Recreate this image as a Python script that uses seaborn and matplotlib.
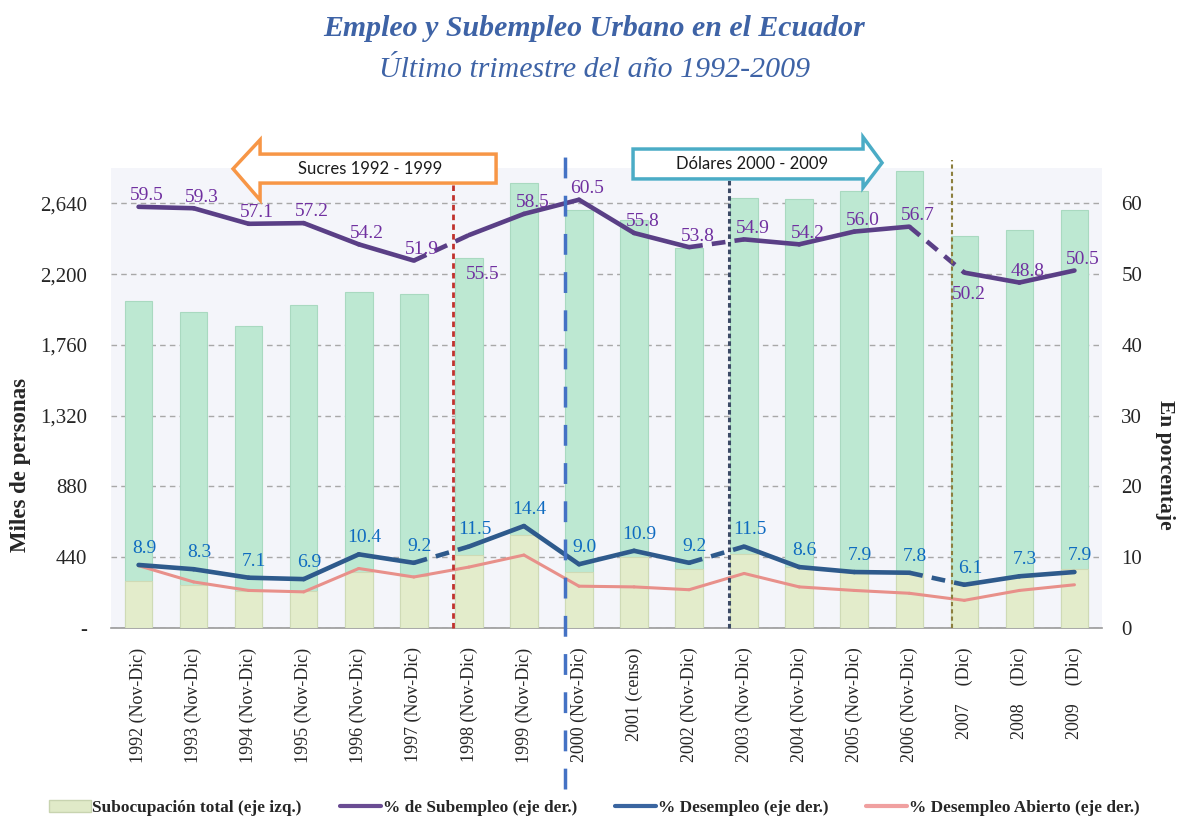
import numpy as np
import pandas as pd
import matplotlib
matplotlib.use("Agg")
import matplotlib.pyplot as plt
import matplotlib.transforms as mtransforms
from matplotlib.patches import Polygon, Patch
from matplotlib.lines import Line2D
from matplotlib.ticker import FuncFormatter, MultipleLocator
import seaborn as sns

# Datos (miles de personas y porcentajes)
periodos = ["1992 (Nov-Dic)", "1993 (Nov-Dic)", "1994 (Nov-Dic)", "1995 (Nov-Dic)",
            "1996 (Nov-Dic)", "1997 (Nov-Dic)", "1998 (Nov-Dic)", "1999 (Nov-Dic)",
            "2000 (Nov-Dic)", "2001 (censo)", "2002 (Nov-Dic)", "2003 (Nov-Dic)",
            "2004 (Nov-Dic)", "2005 (Nov-Dic)", "2006 (Nov-Dic)", "2007    (Dic)",
            "2008    (Dic)", "2009    (Dic)"]
subocupacion = [2035, 1965, 1880, 2005, 2090, 2075, 2300, 2765, 2598, 2536,
                2362, 2672, 2665, 2715, 2840, 2435, 2475, 2600]
desocupados = [290, 264, 232, 232, 347, 326, 451, 575, 347, 440,
               368, 461, 378, 357, 337, 284, 315, 368]
pct_subempleo = [59.5, 59.3, 57.1, 57.2, 54.2, 51.9, 55.5, 58.5, 60.5, 55.8,
                 53.8, 54.9, 54.2, 56.0, 56.7, 50.2, 48.8, 50.5]
pct_desempleo = [8.9, 8.3, 7.1, 6.9, 10.4, 9.2, 11.5, 14.4, 9.0, 10.9,
                 9.2, 11.5, 8.6, 7.9, 7.8, 6.1, 7.3, 7.9]
pct_desempleo_abierto = [8.8, 6.5, 5.3, 5.1, 8.4, 7.2, 8.6, 10.3, 5.9, 5.8,
                         5.4, 7.7, 5.8, 5.3, 4.9, 3.9, 5.3, 6.1]

# tramos discontinuos (cambio de metodologia)
tramos_discontinuos = [5, 10, 14]

df = pd.DataFrame({"periodo": periodos, "subocupacion": subocupacion,
                   "desocupados": desocupados})
x = np.arange(len(periodos))

sns.set_theme(style="white")
plt.rcParams["font.family"] = ["Liberation Serif", "DejaVu Serif"]

fig = plt.figure(figsize=(11.89, 8.23), dpi=100)
ax = fig.add_axes([0.0934, 0.237, 0.8334, 0.559])
ax.set_facecolor("#F4F5FA")

sns.barplot(data=df, x="periodo", y="subocupacion", color="#BDE8D2", width=0.5,
            edgecolor="#A9D9C0", linewidth=0.8, saturation=1, ax=ax, zorder=2)
sns.barplot(data=df, x="periodo", y="desocupados", color="#E3ECCB", width=0.5,
            edgecolor="#CFDAB5", linewidth=0.8, saturation=1, ax=ax, zorder=3)

ax.set_xlim(-0.5, len(periodos) - 0.5)
ax.set_ylim(0, 2860)
ax.yaxis.set_major_locator(MultipleLocator(440))
ax.yaxis.set_major_formatter(FuncFormatter(lambda v, p: "-" if v == 0 else f"{v:,.0f}"))
ax.grid(axis="y", color="#A8A8A8", linestyle=(0, (4, 3)), linewidth=1)
ax.set_axisbelow(True)
ax.set_xlabel("")
ax.set_ylabel("")
for s in ["top", "left", "right"]:
    ax.spines[s].set_visible(False)
ax.spines["bottom"].set_color("#9A9A9A")
ax.spines["bottom"].set_linewidth(1.2)
ax.tick_params(axis="y", length=0, pad=17, labelsize=15)
ax.tick_params(axis="x", which="major", length=0, pad=14, labelsize=13)
ax.set_xticks(x)
ax.set_xticklabels(periodos, rotation=90)
ax.set_xticks(np.arange(len(periodos) + 1) - 0.5, minor=True)
ax.tick_params(axis="x", which="minor", length=6, width=1.2, color="#9A9A9A", direction="out")

ax2 = ax.twinx()
ax2.set_ylim(0, 65)
ax2.set_yticks([0, 10, 20, 30, 40, 50, 60])
ax2.tick_params(axis="y", length=0, pad=14, labelsize=15)
ax2.grid(False)
for s in ["top", "left", "right", "bottom"]:
    ax2.spines[s].set_visible(False)


def dibujar_serie(valores, color, lw, discontinuos):
    # un segmento por par de puntos, discontinuo donde cambia la serie
    for i in range(len(valores) - 1):
        estilo = (0, (3, 2)) if i in discontinuos else "-"
        sns.lineplot(x=x[i:i + 2], y=valores[i:i + 2], ax=ax2, color=color,
                     linewidth=lw, linestyle=estilo, zorder=5)


dibujar_serie(pct_desempleo_abierto, "#E8908A", 2.2, [])
dibujar_serie(pct_subempleo, "#5A3F86", 3.3, tramos_discontinuos)
dibujar_serie(pct_desempleo, "#2E5A8C", 3.3, tramos_discontinuos)

# etiquetas de datos
desp_sub = {6: (10, -28), 15: (3, -16)}
for i, v in enumerate(pct_subempleo):
    dx, dy = desp_sub.get(i, (6, 8))
    ax2.annotate(f"{v:.1f}", (x[i], v), xytext=(dx, dy), textcoords="offset points",
                 ha="center", va="center", color="#7030A0", fontsize=14, zorder=7)
for i, v in enumerate(pct_desempleo):
    ax2.annotate(f"{v:.1f}", (x[i], v), xytext=(4, 12), textcoords="offset points",
                 ha="center", va="center", color="#0F6BC0", fontsize=14, zorder=7)

# lineas verticales de referencia
trans = mtransforms.blended_transform_factory(ax2.transData, ax2.transAxes)
ax2.plot([5.72, 5.72], [0, 0.967], transform=trans, clip_on=False,
         color="#C0322D", linestyle=(0, (2, 1.5)), linewidth=2, zorder=6)
ax2.plot([7.74, 7.74], [-0.35, 1.057], transform=trans, clip_on=False,
         color="#4472C4", linestyle=(0, (6, 5)), linewidth=2.5, zorder=6)
ax2.plot([10.72, 10.72], [0, 0.976], transform=trans, clip_on=False,
         color="#3C4A66", linestyle=(0, (1.5, 1)), linewidth=2.2, zorder=6)
ax2.plot([14.77, 14.77], [0, 1.017], transform=trans, clip_on=False,
         color="#8C7F3E", linestyle=(0, (2, 1.5)), linewidth=1.5, zorder=6)

# flechas de periodo monetario
flecha_sucres = Polygon([[1.716, 0.998], [2.207, 1.061], [2.207, 1.030], [6.494, 1.030],
                         [6.494, 0.967], [2.207, 0.967], [2.207, 0.930]],
                        closed=True, transform=trans, clip_on=False,
                        facecolor="white", edgecolor="#F79646", linewidth=2.5, zorder=8)
flecha_dolares = Polygon([[8.982, 1.041], [13.16, 1.041], [13.16, 1.067], [13.505, 1.011],
                          [13.16, 0.957], [13.16, 0.976], [8.982, 0.976]],
                         closed=True, transform=trans, clip_on=False,
                         facecolor="white", edgecolor="#4BACC6", linewidth=2.5, zorder=8)
ax2.add_patch(flecha_sucres)
ax2.add_patch(flecha_dolares)
ax2.text(4.21, 0.998, "Sucres 1992 - 1999", transform=trans, ha="center", va="center",
         fontsize=12, family="Lato", color="#1A1A1A", zorder=9)
ax2.text(11.14, 1.009, "Dólares 2000 - 2009", transform=trans, ha="center", va="center",
         fontsize=12, family="Lato", color="#1A1A1A", zorder=9)

ax2.set_zorder(ax.get_zorder() + 1)
ax2.patch.set_visible(False)

# titulos y ejes
fig.text(0.5, 0.965, "Empleo y Subempleo Urbano en el Ecuador", ha="center", va="center",
         fontsize=21.5, fontweight="bold", fontstyle="italic", color="#3E63A6")
fig.text(0.5, 0.915, "Último trimestre del año 1992-2009", ha="center", va="center",
         fontsize=21.5, fontstyle="italic", color="#3E63A6")
fig.text(0.017, 0.435, "Miles de personas", rotation=90, ha="center", va="center",
         fontsize=16.5, fontweight="bold")
fig.text(0.98, 0.435, "En porcentaje", rotation=-90, ha="center", va="center",
         fontsize=15.5, fontweight="bold")

handles = [Patch(facecolor="#E0EAC8", edgecolor="#C8D4B0"),
           Line2D([0], [0], color="#6A4C93", linewidth=3),
           Line2D([0], [0], color="#3A65A0", linewidth=3),
           Line2D([0], [0], color="#F0A0A0", linewidth=3)]
etiquetas = ["Subocupación total (eje izq.)", "% de Subempleo (eje der.)",
             "% Desempleo (eje der.)", "% Desempleo Abierto (eje der.)"]
fig.legend(handles, etiquetas, loc="center", bbox_to_anchor=(0.5, 0.018), ncol=4,
           frameon=False, prop={"weight": "bold", "size": 12.4}, handlelength=2.4,
           handletextpad=0.1, columnspacing=2.2)

fig.savefig("out.png", dpi=100)
